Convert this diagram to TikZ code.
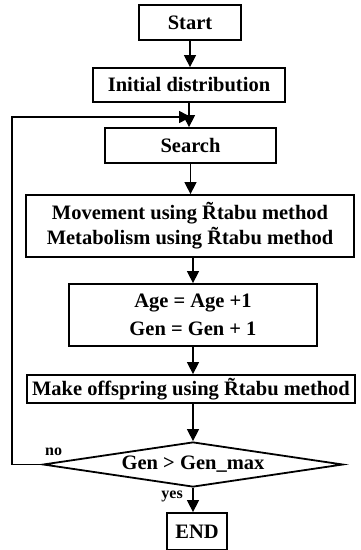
\documentclass[tikz,border=0pt]{standalone}
\usepackage{fontspec}
\setmainfont{Liberation Serif}
\usetikzlibrary{shapes.geometric,arrows.meta}
\begin{document}
\begin{tikzpicture}[x=1pt,y=-1pt,
  box/.style={draw,line width=1.8pt,inner sep=0pt,font=\fontsize{20.5}{25}\selectfont\bfseries,align=center},
  arr/.style={line width=1.5pt,-{Triangle[length=12pt,width=12pt]}},
  lbl/.style={font=\fontsize{16}{18}\selectfont\bfseries,inner sep=0pt}]
\useasboundingbox (0,0) rectangle (360,550);
\node[box,minimum width=102pt,minimum height=35pt] (start) at (190,22.5) {Start};
\node[box,minimum width=192pt,minimum height=34pt] (init) at (189,85) {Initial distribution};
\node[box,minimum width=171pt,minimum height=35pt] (search) at (190.5,145.5) {Search};
\node[box,minimum width=328pt,minimum height=62pt] (move) at (190,226) {Movement using \~{R}tabu method\\Metabolism using \~{R}tabu method};
\node[box,minimum width=248pt,minimum height=62pt] (age) at (193,315) {Age = Age +1\\[3pt]Gen = Gen + 1};
\node[box,minimum width=328pt,minimum height=28pt] (make) at (191,389) {Make offspring using \~{R}tabu method};
\node[box,diamond,aspect=6.67,minimum width=300pt,minimum height=45pt] (dia) at (193,464.5) {Gen > Gen\_max};
\node[box,minimum width=60pt,minimum height=37pt] (end) at (197,531.5) {END};
\coordinate (join) at (191,117);
\draw[arr] (start.south) -- (start.south |- init.north);
\draw[arr] (init.south) -- (init.south |- search.north);
\draw[arr] (search.south) -- (search.south |- move.north);
\draw[arr] (193,257) -- (age.north);
\draw[arr] (age.south) -- (age.south |- make.north);
\draw[arr] (make.south -| dia.north) -- (dia.north);
\draw[arr] (dia.south) -- (dia.south |- end.north);
\draw[arr] (dia.west) -- (12,464.5) |- (join);
\node[lbl,anchor=west] (no) at (45,452) {no};
\node[lbl,anchor=east] (yes) at (183,496) {yes};
\end{tikzpicture}
\end{document}
